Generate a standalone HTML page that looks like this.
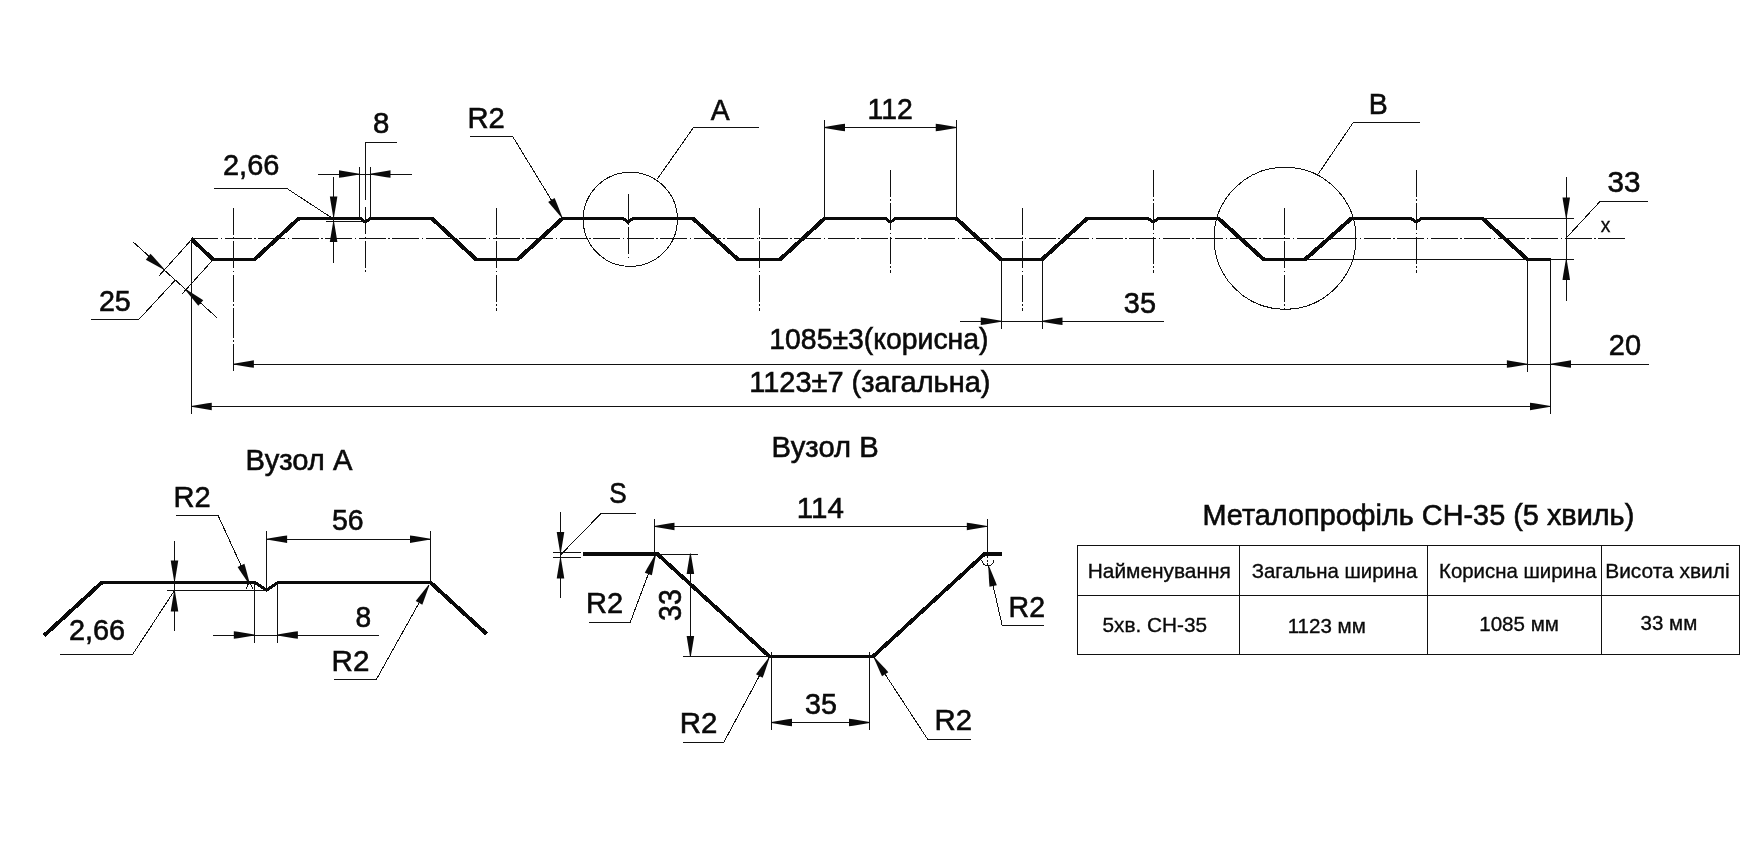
<!DOCTYPE html>
<html lang="uk"><head><meta charset="utf-8"><title>Металопрофіль СН-35</title>
<style>
html,body{margin:0;padding:0;background:#fff;}
body{width:1754px;height:856px;overflow:hidden;}
svg{display:block;will-change:transform;}
svg text{font-family:"Liberation Sans",sans-serif;fill:#0a0a0a;stroke:#0a0a0a;stroke-width:0.6px;}
svg text.s{stroke-width:0.35px;}
.t,.c,.p{shape-rendering:crispEdges;}
.t{stroke:#111;stroke-width:1;fill:none;}
.p{stroke:#0a0a0a;stroke-width:3;fill:none;stroke-linejoin:miter;}
.c{stroke:#111;stroke-width:1;fill:none;stroke-dasharray:27 2.5 1.5 2.5;}
.a{fill:#0a0a0a;stroke:none;}
</style></head><body>
<svg width="1754" height="856" viewBox="0 0 1754 856">
<rect x="0" y="0" width="1754" height="856" fill="#ffffff"/>
<polyline class="p" points="191.25,238.75 213.00,259.50 254.50,259.50 298.75,218.50 360.40,218.50 365.40,222.10 370.40,218.50 432.00,218.50 476.25,259.50 517.50,259.50 562.50,218.50 623.00,218.50 628.00,222.10 633.00,218.50 693.00,218.50 738.00,259.50 780.00,259.50 824.50,218.50 885.50,218.50 890.50,222.10 895.50,218.50 956.25,218.50 1001.25,259.50 1042.00,259.50 1087.00,218.50 1148.20,218.50 1153.20,222.10 1158.20,218.50 1218.50,218.50 1263.75,259.50 1305.00,259.50 1351.25,218.50 1411.20,218.50 1416.20,222.10 1421.20,218.50 1482.50,218.50 1527.50,259.50 1551.25,259.50"/>
<line class="p" style="stroke-width:4.0" x1="191.25" y1="238.75" x2="213.00" y2="259.50"/>
<line class="p" style="stroke-width:4.0" x1="254.50" y1="259.50" x2="298.75" y2="218.50"/>
<line class="p" style="stroke-width:4.0" x1="432.00" y1="218.50" x2="476.25" y2="259.50"/>
<line class="p" style="stroke-width:4.0" x1="517.50" y1="259.50" x2="562.50" y2="218.50"/>
<line class="p" style="stroke-width:4.0" x1="693.00" y1="218.50" x2="738.00" y2="259.50"/>
<line class="p" style="stroke-width:4.0" x1="780.00" y1="259.50" x2="824.50" y2="218.50"/>
<line class="p" style="stroke-width:4.0" x1="956.25" y1="218.50" x2="1001.25" y2="259.50"/>
<line class="p" style="stroke-width:4.0" x1="1042.00" y1="259.50" x2="1087.00" y2="218.50"/>
<line class="p" style="stroke-width:4.0" x1="1218.50" y1="218.50" x2="1263.75" y2="259.50"/>
<line class="p" style="stroke-width:4.0" x1="1305.00" y1="259.50" x2="1351.25" y2="218.50"/>
<line class="p" style="stroke-width:4.0" x1="1482.50" y1="218.50" x2="1527.50" y2="259.50"/>
<line class="c" x1="191.00" y1="238.50" x2="1625.50" y2="238.50"/>
<line class="c" x1="233.50" y1="207.50" x2="233.50" y2="310.50"/>
<line class="c" x1="496.50" y1="207.50" x2="496.50" y2="310.50"/>
<line class="c" x1="759.50" y1="207.50" x2="759.50" y2="310.50"/>
<line class="c" x1="1022.50" y1="207.50" x2="1022.50" y2="310.50"/>
<line class="c" x1="233.50" y1="310.50" x2="233.50" y2="371.50"/>
<line class="c" x1="1284.50" y1="207.50" x2="1284.50" y2="309.50"/>
<line class="c" x1="365.50" y1="207.20" x2="365.50" y2="272.00"/>
<line class="c" x1="628.50" y1="193.75" x2="628.50" y2="257.50"/>
<line class="c" x1="890.50" y1="169.50" x2="890.50" y2="272.50"/>
<line class="c" x1="1153.50" y1="169.50" x2="1153.50" y2="272.50"/>
<line class="c" x1="1416.50" y1="169.50" x2="1416.50" y2="272.50"/>
<circle class="t" cx="630.3" cy="219.4" r="47.1" fill="none"/>
<circle class="t" cx="1285" cy="238.25" r="71" fill="none"/>
<polyline class="t" points="657.50,178.75 693.50,127.50 758.75,127.50"/>
<polyline class="t" points="1317.50,175.00 1353.25,122.50 1419.50,122.50"/>
<polyline class="t" points="470.00,136.50 512.70,136.50 562.00,217.50"/>
<polygon class="a" points="562.34,217.29 556.18,201.85 554.57,198.03 548.16,201.92 550.80,205.12 561.66,217.71"/>
<line class="t" x1="824.50" y1="120.00" x2="824.50" y2="218.00"/>
<line class="t" x1="956.50" y1="120.00" x2="956.50" y2="218.00"/>
<line class="t" x1="824.50" y1="127.50" x2="956.25" y2="127.50"/>
<polygon class="a" points="824.50,127.90 840.90,130.65 845.00,131.25 845.00,123.75 840.90,124.35 824.50,127.10"/>
<polygon class="a" points="956.25,127.10 939.85,124.35 935.75,123.75 935.75,131.25 939.85,130.65 956.25,127.90"/>
<polyline class="t" points="396.90,142.50 365.50,142.50 365.50,200.00"/>
<line class="t" x1="318.40" y1="174.50" x2="411.80" y2="174.50"/>
<line class="t" x1="359.50" y1="166.60" x2="359.50" y2="218.00"/>
<line class="t" x1="370.50" y1="166.60" x2="370.50" y2="218.00"/>
<polygon class="a" points="359.50,173.70 343.10,170.95 339.00,170.35 339.00,177.85 343.10,177.25 359.50,174.50"/>
<polygon class="a" points="370.00,174.50 386.40,177.25 390.50,177.85 390.50,170.35 386.40,170.95 370.00,173.70"/>
<polyline class="t" points="214.00,188.50 286.90,188.50 332.00,218.00"/>
<line class="t" x1="333.50" y1="177.10" x2="333.50" y2="262.80"/>
<polygon class="a" points="334.00,217.00 336.75,200.60 337.35,196.50 329.85,196.50 330.45,200.60 333.20,217.00"/>
<polygon class="a" points="333.20,221.50 330.45,237.90 329.85,242.00 337.35,242.00 336.75,237.90 334.00,221.50"/>
<line class="t" x1="326.00" y1="221.50" x2="365.40" y2="221.50"/>
<line class="t" x1="133.30" y1="242.10" x2="216.80" y2="317.60"/>
<line class="t" x1="191.80" y1="239.30" x2="159.40" y2="275.50"/>
<line class="t" x1="213.00" y1="259.80" x2="181.50" y2="294.50"/>
<polyline class="t" points="91.30,319.50 138.80,319.50 175.00,280.40"/>
<polygon class="a" points="164.45,269.19 153.33,256.82 150.50,253.80 145.83,259.66 149.41,261.75 163.95,269.81"/>
<polygon class="a" points="185.14,289.70 195.62,302.61 198.30,305.77 203.26,300.14 199.79,297.88 185.66,289.10"/>
<line class="t" x1="191.50" y1="238.75" x2="191.50" y2="413.50"/>
<line class="t" x1="1527.50" y1="259.25" x2="1527.50" y2="371.80"/>
<line class="t" x1="1550.50" y1="259.25" x2="1550.50" y2="413.80"/>
<line class="t" x1="233.40" y1="364.50" x2="1648.70" y2="364.50"/>
<polygon class="a" points="233.40,364.50 249.80,367.25 253.90,367.85 253.90,360.35 249.80,360.95 233.40,363.70"/>
<polygon class="a" points="1527.40,363.70 1511.00,360.95 1506.90,360.35 1506.90,367.85 1511.00,367.25 1527.40,364.50"/>
<polygon class="a" points="1550.50,364.50 1566.90,367.25 1571.00,367.85 1571.00,360.35 1566.90,360.95 1550.50,363.70"/>
<line class="t" x1="191.25" y1="406.50" x2="1550.50" y2="406.50"/>
<polygon class="a" points="191.25,406.80 207.65,409.55 211.75,410.15 211.75,402.65 207.65,403.25 191.25,406.00"/>
<polygon class="a" points="1550.50,406.00 1534.10,403.25 1530.00,402.65 1530.00,410.15 1534.10,409.55 1550.50,406.80"/>
<line class="t" x1="1001.50" y1="259.25" x2="1001.50" y2="328.75"/>
<line class="t" x1="1042.50" y1="259.25" x2="1042.50" y2="328.75"/>
<line class="t" x1="960.00" y1="321.50" x2="1163.75" y2="321.50"/>
<polygon class="a" points="1001.25,320.85 984.85,318.10 980.75,317.50 980.75,325.00 984.85,324.40 1001.25,321.65"/>
<polygon class="a" points="1042.00,321.65 1058.40,324.40 1062.50,325.00 1062.50,317.50 1058.40,318.10 1042.00,320.85"/>
<line class="t" x1="1482.50" y1="218.50" x2="1574.20" y2="218.50"/>
<line class="t" x1="1305.00" y1="259.50" x2="1574.20" y2="259.50"/>
<line class="t" x1="1566.50" y1="177.00" x2="1566.50" y2="300.50"/>
<polygon class="a" points="1566.65,218.00 1569.40,201.60 1570.00,197.50 1562.50,197.50 1563.10,201.60 1565.85,218.00"/>
<polygon class="a" points="1565.85,259.40 1563.10,275.80 1562.50,279.90 1570.00,279.90 1569.40,275.80 1566.65,259.40"/>
<polyline class="t" points="1566.25,238.00 1600.00,201.50 1647.50,201.50"/>
<polyline class="p" points="44.20,635.50 101.80,582.50 255.20,582.50 266.60,590.20 278.00,582.50 430.50,582.50 486.60,634.00"/>
<line class="p" style="stroke-width:4.0" x1="44.20" y1="635.50" x2="101.80" y2="582.50"/>
<line class="p" style="stroke-width:4.0" x1="430.50" y1="582.50" x2="486.60" y2="634.00"/>
<line class="t" x1="266.50" y1="531.20" x2="266.50" y2="590.00"/>
<line class="t" x1="430.50" y1="531.20" x2="430.50" y2="582.50"/>
<line class="t" x1="266.60" y1="539.50" x2="430.50" y2="539.50"/>
<polygon class="a" points="266.60,539.60 283.00,542.35 287.10,542.95 287.10,535.45 283.00,536.05 266.60,538.80"/>
<polygon class="a" points="430.50,538.80 414.10,536.05 410.00,535.45 410.00,542.95 414.10,542.35 430.50,539.60"/>
<polyline class="t" points="176.20,515.50 218.10,515.50 249.50,584.00"/>
<polygon class="a" points="249.86,583.83 245.57,567.77 244.42,563.79 237.60,566.89 239.84,570.38 249.14,584.17"/>
<line class="t" x1="248.60" y1="583.10" x2="246.10" y2="588.75"/>
<line class="t" x1="250.00" y1="583.10" x2="252.80" y2="588.75"/>
<line class="t" x1="174.50" y1="541.20" x2="174.50" y2="631.00"/>
<polygon class="a" points="174.90,581.00 177.65,564.60 178.25,560.50 170.75,560.50 171.35,564.60 174.10,581.00"/>
<polygon class="a" points="174.10,591.00 171.35,607.40 170.75,611.50 178.25,611.50 177.65,607.40 174.90,591.00"/>
<line class="t" x1="166.80" y1="590.50" x2="266.60" y2="590.50"/>
<polyline class="t" points="59.90,654.50 132.60,654.50 174.50,590.50"/>
<line class="t" x1="213.30" y1="635.50" x2="378.60" y2="635.50"/>
<line class="t" x1="254.50" y1="582.50" x2="254.50" y2="643.20"/>
<line class="t" x1="277.50" y1="582.50" x2="277.50" y2="643.20"/>
<polygon class="a" points="254.30,634.60 237.90,631.85 233.80,631.25 233.80,638.75 237.90,638.15 254.30,635.40"/>
<polygon class="a" points="277.40,635.40 293.80,638.15 297.90,638.75 297.90,631.25 293.80,631.85 277.40,634.60"/>
<polyline class="t" points="334.10,679.50 376.30,679.50 429.00,585.00"/>
<polygon class="a" points="428.65,584.81 418.27,597.80 415.75,601.09 422.31,604.74 423.78,600.86 429.35,585.19"/>
<polyline class="p" points="583.00,553.50 656.80,553.50 769.50,656.50 873.00,656.50 985.00,553.50 1001.90,553.50"/>
<line class="p" style="stroke-width:3.8" x1="656.80" y1="553.50" x2="769.50" y2="656.50"/>
<line class="p" style="stroke-width:3.8" x1="873.00" y1="656.50" x2="985.00" y2="553.50"/>
<line class="p" style="stroke-width:4" x1="583" y1="554" x2="656.5" y2="554"/>
<line class="p" style="stroke-width:4" x1="985" y1="554" x2="1001.9" y2="554"/>
<line class="t" x1="654.50" y1="518.70" x2="654.50" y2="553.50"/>
<line class="t" x1="987.50" y1="518.70" x2="987.50" y2="553.50"/>
<line class="t" x1="654.00" y1="526.50" x2="987.30" y2="526.50"/>
<polygon class="a" points="654.00,526.80 670.40,529.55 674.50,530.15 674.50,522.65 670.40,523.25 654.00,526.00"/>
<polygon class="a" points="987.30,526.00 970.90,523.25 966.80,522.65 966.80,530.15 970.90,529.55 987.30,526.80"/>
<polyline class="t" points="635.75,513.50 601.00,513.50 560.50,555.00"/>
<line class="t" x1="560.50" y1="511.60" x2="560.50" y2="598.30"/>
<polygon class="a" points="560.90,552.40 563.65,536.00 564.25,531.90 556.75,531.90 557.35,536.00 560.10,552.40"/>
<polygon class="a" points="560.10,558.00 557.35,574.40 556.75,578.50 564.25,578.50 563.65,574.40 560.90,558.00"/>
<line class="t" x1="553.00" y1="552.50" x2="581.00" y2="552.50"/>
<line class="t" x1="553.00" y1="557.50" x2="581.00" y2="557.50"/>
<line class="t" x1="690.50" y1="553.50" x2="690.50" y2="656.50"/>
<polygon class="a" points="690.00,553.50 687.25,569.90 686.65,574.00 694.15,574.00 693.55,569.90 690.80,553.50"/>
<polygon class="a" points="690.80,656.50 693.55,640.10 694.15,636.00 686.65,636.00 687.25,640.10 690.00,656.50"/>
<line class="t" x1="655.80" y1="554.50" x2="698.00" y2="554.50"/>
<line class="t" x1="682.70" y1="656.50" x2="770.00" y2="656.50"/>
<text id="t33v" font-size="30.9" text-anchor="middle" textLength="31.75" lengthAdjust="spacingAndGlyphs" transform="translate(680.8,605) rotate(-90)">33</text>
<polyline class="t" points="588.60,622.50 630.20,622.50 655.50,554.80"/>
<polygon class="a" points="655.13,554.66 646.82,569.06 644.82,572.70 651.85,575.32 652.72,571.27 655.87,554.94"/>
<polyline class="t" points="1044.00,625.50 1002.20,625.50 988.60,566.00"/>
<polygon class="a" points="988.21,566.09 989.19,582.69 989.52,586.82 996.83,585.15 995.33,581.28 988.99,565.91"/>
<path class="t" fill="none" d="M981.9,560 A5.95,5.95 0 0 0 993.8,560"/><line class="t" stroke-dasharray="2 1.5" x1="987.5" y1="556" x2="987.5" y2="565"/>
<line class="t" x1="771.50" y1="652.00" x2="771.50" y2="730.20"/>
<line class="t" x1="869.50" y1="652.00" x2="869.50" y2="730.20"/>
<line class="t" x1="771.50" y1="722.50" x2="869.50" y2="722.50"/>
<polygon class="a" points="771.50,722.90 787.90,725.65 792.00,726.25 792.00,718.75 787.90,719.35 771.50,722.10"/>
<polygon class="a" points="869.50,722.10 853.10,719.35 849.00,718.75 849.00,726.25 853.10,725.65 869.50,722.90"/>
<polyline class="t" points="682.70,742.50 723.70,742.50 769.00,658.00"/>
<polygon class="a" points="768.65,657.81 758.48,670.97 756.02,674.30 762.63,677.84 764.04,673.94 769.35,658.19"/>
<polyline class="t" points="971.00,739.50 927.80,739.50 873.90,657.10"/>
<polygon class="a" points="873.57,657.32 880.29,672.53 882.05,676.28 888.31,672.15 885.55,669.06 874.23,656.88"/>
<rect class="t" fill="none" x="1077.4" y="545.3" width="662.00" height="109.30"/>
<line class="t" x1="1077.40" y1="595.50" x2="1739.40" y2="595.50"/>
<line class="t" x1="1239.50" y1="545.30" x2="1239.50" y2="654.60"/>
<line class="t" x1="1427.50" y1="545.30" x2="1427.50" y2="654.60"/>
<line class="t" x1="1601.50" y1="545.30" x2="1601.50" y2="654.60"/>
<text id="t25" x="98.93" y="310.60" font-size="29.4" textLength="31.86" lengthAdjust="spacingAndGlyphs">25</text>
<text id="t266" x="223.01" y="174.70" font-size="29.4" textLength="56.37" lengthAdjust="spacingAndGlyphs">2,66</text>
<text id="t8" x="373.00" y="132.50" font-size="29.4" textLength="16.36" lengthAdjust="spacingAndGlyphs">8</text>
<text id="tR2" x="467.51" y="127.50" font-size="29.4" textLength="37.30" lengthAdjust="spacingAndGlyphs">R2</text>
<text id="tA" x="710.75" y="119.50" font-size="29.4" textLength="18.87" lengthAdjust="spacingAndGlyphs">A</text>
<text id="t112" x="867.57" y="118.75" font-size="29.4" textLength="45.26" lengthAdjust="spacingAndGlyphs">112</text>
<text id="tB" x="1368.81" y="114.25" font-size="29.4" textLength="19.00" lengthAdjust="spacingAndGlyphs">B</text>
<text id="t33r" x="1607.49" y="191.95" font-size="29.4" textLength="32.97" lengthAdjust="spacingAndGlyphs">33</text>
<text id="tx" class="s" x="1600.75" y="232.00" font-size="20.8" textLength="9.63" lengthAdjust="spacingAndGlyphs">x</text>
<text id="t20" x="1608.82" y="354.70" font-size="29.4" textLength="32.18" lengthAdjust="spacingAndGlyphs">20</text>
<text id="t35" x="1123.87" y="313.05" font-size="29.4" textLength="32.12" lengthAdjust="spacingAndGlyphs">35</text>
<text id="t1085" x="769.32" y="348.50" font-size="29.4" textLength="219.16" lengthAdjust="spacingAndGlyphs">1085±3(корисна)</text>
<text id="t1123" x="749.28" y="391.75" font-size="29.4" textLength="241.15" lengthAdjust="spacingAndGlyphs">1123±7 (загальна)</text>
<text id="tVA" x="245.52" y="469.50" font-size="29.4" textLength="106.92" lengthAdjust="spacingAndGlyphs">Вузол А</text>
<text id="tR2a" x="173.42" y="506.90" font-size="29.4" textLength="37.14" lengthAdjust="spacingAndGlyphs">R2</text>
<text id="t56" x="332.03" y="529.80" font-size="29.4" textLength="31.65" lengthAdjust="spacingAndGlyphs">56</text>
<text id="t266a" x="68.92" y="640.40" font-size="29.4" textLength="56.27" lengthAdjust="spacingAndGlyphs">2,66</text>
<text id="t8a" x="355.44" y="626.70" font-size="29.4" textLength="15.66" lengthAdjust="spacingAndGlyphs">8</text>
<text id="tR2ab" x="331.59" y="670.90" font-size="29.4" textLength="37.80" lengthAdjust="spacingAndGlyphs">R2</text>
<text id="tVB" x="771.61" y="456.90" font-size="29.4" textLength="107.02" lengthAdjust="spacingAndGlyphs">Вузол В</text>
<text id="t114" x="796.89" y="518.10" font-size="29.4" textLength="47.07" lengthAdjust="spacingAndGlyphs">114</text>
<text id="tS" x="609.31" y="503.10" font-size="29.4" textLength="17.43" lengthAdjust="spacingAndGlyphs">S</text>
<text id="tR2bl" x="586.02" y="613.40" font-size="29.4" textLength="37.14" lengthAdjust="spacingAndGlyphs">R2</text>
<text id="tR2br" x="1008.56" y="617.00" font-size="29.4" textLength="36.47" lengthAdjust="spacingAndGlyphs">R2</text>
<text id="t35b" x="805.03" y="713.50" font-size="29.4" textLength="31.86" lengthAdjust="spacingAndGlyphs">35</text>
<text id="tR2bbl" x="679.70" y="732.80" font-size="29.4" textLength="37.58" lengthAdjust="spacingAndGlyphs">R2</text>
<text id="tR2bbr" x="934.51" y="730.40" font-size="29.4" textLength="37.47" lengthAdjust="spacingAndGlyphs">R2</text>
<text id="tTitle" x="1202.44" y="524.80" font-size="29.4" textLength="431.84" lengthAdjust="spacingAndGlyphs">Металопрофіль СН-35 (5 хвиль)</text>
<text id="h1" class="s" x="1087.69" y="577.70" font-size="20.8" textLength="143.18" lengthAdjust="spacingAndGlyphs">Найменування</text>
<text id="h2" class="s" x="1251.72" y="577.70" font-size="20.8" textLength="165.75" lengthAdjust="spacingAndGlyphs">Загальна ширина</text>
<text id="h3" class="s" x="1439.04" y="577.70" font-size="20.8" textLength="157.51" lengthAdjust="spacingAndGlyphs">Корисна ширина</text>
<text id="h4" class="s" x="1605.19" y="577.70" font-size="20.8" textLength="124.41" lengthAdjust="spacingAndGlyphs">Висота хвилі</text>
<text id="c1" class="s" x="1102.50" y="631.50" font-size="20.8" textLength="104.57" lengthAdjust="spacingAndGlyphs">5хв. СН-35</text>
<text id="c2" class="s" x="1287.71" y="633.10" font-size="20.8" textLength="78.08" lengthAdjust="spacingAndGlyphs">1123 мм</text>
<text id="c3" class="s" x="1479.21" y="630.70" font-size="20.8" textLength="79.71" lengthAdjust="spacingAndGlyphs">1085 мм</text>
<text id="c4" class="s" x="1640.61" y="629.60" font-size="20.8" textLength="56.68" lengthAdjust="spacingAndGlyphs">33 мм</text>
</svg>
</body></html>
